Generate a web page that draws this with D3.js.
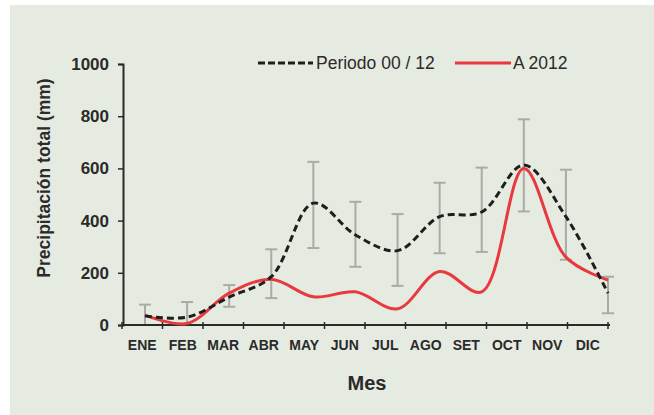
<!DOCTYPE html>
<html><head><meta charset="utf-8">
<script src="https://cdn.jsdelivr.net/npm/d3@7"></script>
<style>body{margin:0;background:#fff}svg{display:block}</style>
</head><body>
<script>
const months = ["ENE","FEB","MAR","ABR","MAY","JUN","JUL","AGO","SET","OCT","NOV","DIC"];
const periodo = [35,30,107,185,467,345,285,415,433,613,415,122];
const errTop = [78,88,153,290,625,472,425,545,603,788,595,185];
const errBot = [0,0,70,103,295,223,150,275,280,435,250,45];
const a2012 = [38,6,122,175,108,127,62,205,127,600,260,172];
const yTicks = [0,200,400,600,800,1000];

const W=654,H=415;
const svg=d3.select("body").append("svg").attr("width",W).attr("height",H);
svg.append("rect").attr("x",10).attr("y",5).attr("width",W-10).attr("height",H-5).attr("fill","#e6ebe1");

const y=d3.scaleLinear().domain([0,1000]).range([325,64]);
const xb=d3.scaleBand().domain(months).range([122,608]);
const xp=d3.scalePoint().domain(months).range([145,608]);

const font="Liberation Sans, Arial, sans-serif";
const ink="#2a2a2a";

// error bars
const eb=svg.append("g").attr("stroke","#a9aba7").attr("stroke-width",2);
months.forEach((m,i)=>{
  const cx=xp(m);
  eb.append("line").attr("x1",cx).attr("x2",cx).attr("y1",y(errTop[i])).attr("y2",y(errBot[i]));
  eb.append("line").attr("x1",cx-6).attr("x2",cx+6).attr("y1",y(errTop[i])).attr("y2",y(errTop[i]));
  eb.append("line").attr("x1",cx-6).attr("x2",cx+6).attr("y1",y(errBot[i])).attr("y2",y(errBot[i]));
});

// axes
const yAxis=svg.append("g").attr("transform","translate(123,0)")
  .call(d3.axisLeft(y).tickValues(yTicks).tickFormat(d3.format("d")).tickSize(5).tickPadding(9));
const xAxis=svg.append("g").attr("transform","translate(0,325)")
  .call(d3.axisBottom(xb).tickSize(0).tickPadding(15));
xAxis.selectAll(".tick line").remove();
xAxis.select(".domain").attr("d","M122,0H610");
// x ticks at band boundaries
const xtk=svg.append("g").attr("stroke",ink).attr("stroke-width",1.5);
months.concat(["_end"]).forEach((m,i)=>{
  const px = i<12 ? xb(m) : xb.range()[1];
  xtk.append("line").attr("x1",px).attr("x2",px).attr("y1",322).attr("y2",329);
});
[yAxis,xAxis].forEach(a=>{
  a.select(".domain").attr("stroke",ink).attr("stroke-width",2);
  a.selectAll(".tick line").attr("stroke",ink).attr("stroke-width",1.5);
  a.selectAll("text").attr("fill",ink).attr("font-family",font).attr("font-weight","bold");
});
yAxis.selectAll("text").attr("font-size",17);
xAxis.selectAll("text").attr("font-size",14);

// lines
const curve=d3.curveCatmullRom.alpha(0.5);
const line=d3.line().x((d,i)=>xp(months[i])).y(d=>y(d)).curve(curve);
svg.append("path").datum(a2012).attr("d",line).attr("fill","none")
  .attr("stroke","#e8393e").attr("stroke-width",3);
svg.append("path").datum(periodo).attr("d",line).attr("fill","none")
  .attr("stroke","#1e1e1e").attr("stroke-width",3).attr("stroke-dasharray","7,4");

// legend
svg.append("line").attr("x1",258).attr("x2",313).attr("y1",63).attr("y2",63)
  .attr("stroke","#1e1e1e").attr("stroke-width",3).attr("stroke-dasharray","7,3");
svg.append("text").attr("x",316).attr("y",69).text("Periodo 00 / 12")
  .attr("font-family",font).attr("font-size",17.5).attr("fill",ink);
svg.append("line").attr("x1",455).attr("x2",511).attr("y1",63).attr("y2",63)
  .attr("stroke","#e8393e").attr("stroke-width",3);
svg.append("text").attr("x",513).attr("y",69).text("A 2012")
  .attr("font-family",font).attr("font-size",17.5).attr("fill",ink);

// titles
svg.append("text").attr("transform","translate(50,178) rotate(-90)").attr("text-anchor","middle")
  .text("Precipitación total (mm)").attr("font-family",font).attr("font-weight","bold")
  .attr("font-size",17.5).attr("fill",ink);
svg.append("text").attr("x",367).attr("y",390).attr("text-anchor","middle").text("Mes")
  .attr("font-family",font).attr("font-weight","bold").attr("font-size",20).attr("fill",ink);
</script>
</body></html>
